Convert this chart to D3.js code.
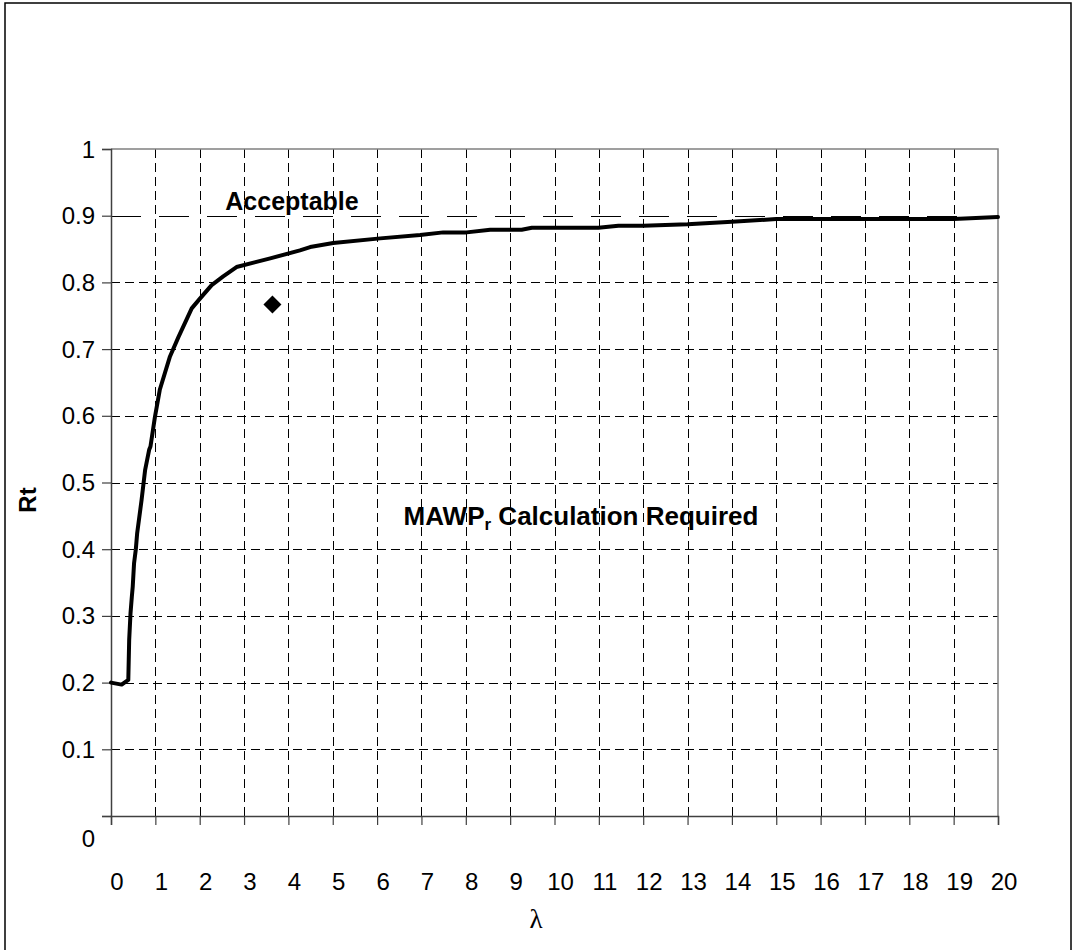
<!DOCTYPE html>
<html>
<head>
<meta charset="utf-8">
<script src="https://cdn.jsdelivr.net/npm/d3@7/dist/d3.min.js"></script>
<style>
  html, body { margin: 0; padding: 0; background: #fff; }
  svg { display: block; font-family: Arial, "Liberation Sans", sans-serif; }
</style>
</head>
<body>
<svg id="chart" width="1074" height="950"></svg>
<script>
// Rt curve against λ
const lambdaValues = [0, 0.24, 0.39, 0.41, 0.44, 0.47, 0.49, 0.52, 0.56, 0.59, 0.69, 0.77, 0.86, 0.89, 0.99, 1.10, 1.33, 1.52, 1.82, 2.01, 2.27, 2.53, 2.83, 3.59, 4.26, 4.49, 5.01, 6.07, 6.97, 7.49, 8.02, 8.55, 9.26, 9.49, 10.99, 11.44, 12.0, 13.0, 14.0, 15.0, 19.0, 20.0];
const rtValues = [0.200, 0.197, 0.204, 0.264, 0.304, 0.329, 0.344, 0.379, 0.400, 0.424, 0.474, 0.519, 0.549, 0.554, 0.598, 0.639, 0.689, 0.718, 0.761, 0.776, 0.796, 0.809, 0.823, 0.836, 0.848, 0.853, 0.859, 0.866, 0.871, 0.875, 0.875, 0.879, 0.879, 0.882, 0.882, 0.885, 0.885, 0.887, 0.891, 0.895, 0.895, 0.898];

// Single assessed point
const pointLambda = [3.64];
const pointRt = [0.767];

// Acceptance limit
const limitRt = 0.9;
const limitLambda = [0, 20];

// Axis ticks
const xTicks = d3.range(0, 21, 1);
const yTicks = [0, 0.1, 0.2, 0.3, 0.4, 0.5, 0.6, 0.7, 0.8, 0.9, 1];
const yTickLabels = ["0", "0.1", "0.2", "0.3", "0.4", "0.5", "0.6", "0.7", "0.8", "0.9", "1"];

const svg = d3.select("#chart");

// outer frame
svg.append("rect")
  .attr("x", 5).attr("y", 3).attr("width", 1066).attr("height", 960)
  .attr("fill", "none").attr("stroke", "#000").attr("stroke-width", 1.5);

const plotLeft = 111, plotRight = 998, plotTop = 149, plotBottom = 816;
const x = d3.scaleLinear().domain([0, 20]).range([plotLeft, plotRight]);
const y = d3.scaleLinear().domain([0, 1]).range([plotBottom, plotTop]);

// gridlines
const grid = svg.append("g").attr("stroke", "#000").attr("stroke-width", 1).attr("stroke-dasharray", "9,5");
grid.selectAll("line.v").data(xTicks.filter(d => d > 0 && d < 20)).join("line")
  .attr("class", "v")
  .attr("x1", d => Math.round(x(d)) + 0.5).attr("x2", d => Math.round(x(d)) + 0.5)
  .attr("y1", plotTop).attr("y2", plotBottom);
grid.selectAll("line.h").data(yTicks.filter(d => d > 0 && d < 1 && d !== limitRt)).join("line")
  .attr("class", "h")
  .attr("x1", plotLeft).attr("x2", plotRight)
  .attr("y1", d => Math.round(y(d)) + 0.5).attr("y2", d => Math.round(y(d)) + 0.5);

// plot area top and right border
svg.append("path")
  .attr("d", `M${plotLeft},${plotTop}H${plotRight}V${plotBottom}`)
  .attr("fill", "none").attr("stroke", "#808080").attr("stroke-width", 1.5);

// acceptance limit line
svg.append("line")
  .attr("x1", x(limitLambda[0])).attr("x2", x(limitLambda[1]))
  .attr("y1", Math.round(y(limitRt)) + 0.5).attr("y2", Math.round(y(limitRt)) + 0.5)
  .attr("stroke", "#000").attr("stroke-width", 1.2).attr("stroke-dasharray", "30,18");

// axes
const xAxis = svg.append("g").attr("transform", `translate(0,${plotBottom})`)
  .call(d3.axisBottom(x).tickValues(xTicks).tickSize(9).tickFormat(""));
const yAxis = svg.append("g").attr("transform", `translate(${plotLeft},0)`)
  .call(d3.axisLeft(y).tickValues(yTicks).tickSize(9).tickFormat(""));
[xAxis, yAxis].forEach(g => {
  g.select(".domain").attr("stroke", "#404040").attr("stroke-width", 1.5);
  g.selectAll(".tick line").attr("stroke", "#404040").attr("stroke-width", 1.2);
});

// tick labels
svg.append("g").selectAll("text").data(xTicks).join("text")
  .attr("x", d => x(d) + 6).attr("y", 890)
  .attr("text-anchor", "middle").attr("font-size", 24).attr("fill", "#000")
  .text(d => d);
svg.append("g").selectAll("text").data(yTicks).join("text")
  .attr("x", 95)
  .attr("y", (d, i) => d === 0 ? 847 : y(d) + 8.5)
  .attr("text-anchor", "end").attr("font-size", 24).attr("fill", "#000")
  .text((d, i) => yTickLabels[i]);

// axis titles
svg.append("text").attr("x", 536).attr("y", 928)
  .attr("text-anchor", "middle").attr("font-size", 27)
  .attr("font-family", "'Liberation Serif', 'DejaVu Serif', serif").attr("fill", "#000")
  .text("λ");
svg.append("text")
  .attr("transform", "translate(36,500) rotate(-90)")
  .attr("text-anchor", "middle").attr("font-size", 24).attr("font-weight", "bold").attr("fill", "#000")
  .text("Rt");

// curve
const curveData = lambdaValues.map((l, i) => [l, rtValues[i]]);
svg.append("path")
  .datum(curveData)
  .attr("d", d3.line().x(d => x(d[0])).y(d => y(d[1])))
  .attr("fill", "none").attr("stroke", "#000").attr("stroke-width", 4)
  .attr("stroke-linejoin", "round").attr("stroke-linecap", "round");

// assessed point marker
svg.append("g").selectAll("path").data(pointLambda.map((l, i) => [l, pointRt[i]])).join("path")
  .attr("transform", d => `translate(${x(d[0])},${y(d[1])})`)
  .attr("d", "M0,-9L9,0L0,9L-9,0Z")
  .attr("fill", "#000");

// region labels
svg.append("text").attr("x", 292).attr("y", 210)
  .attr("text-anchor", "middle").attr("font-size", 25).attr("font-weight", "bold").attr("fill", "#000")
  .text("Acceptable");
const mawp = svg.append("text").attr("x", 581).attr("y", 525)
  .attr("text-anchor", "middle").attr("font-size", 26).attr("font-weight", "bold").attr("fill", "#000");
mawp.append("tspan").text("MAWP");
mawp.append("tspan").attr("font-size", 17).attr("dy", 5).text("r");
mawp.append("tspan").attr("dy", -5).text(" Calculation Required");
</script>
</body>
</html>
